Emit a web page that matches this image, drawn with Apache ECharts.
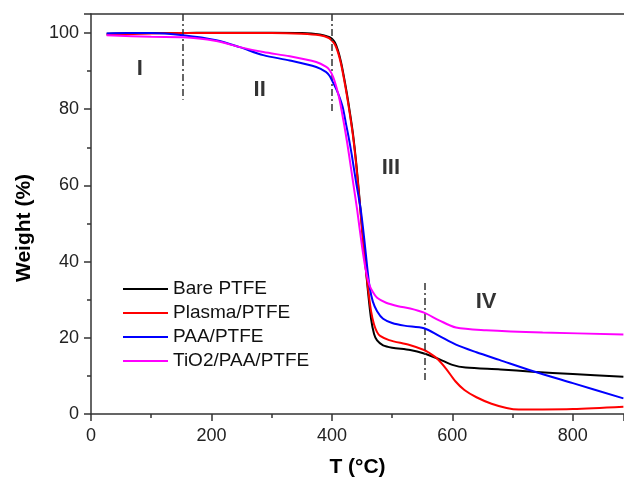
<html>
<head>
<meta http-equiv="Content-Type" content="text/html; charset=utf-8">
<script type="text/javascript" src="https://cdn.jsdelivr.net/npm/echarts@6/dist/echarts.min.js"></script>
<style>
html, body { margin: 0; padding: 0; background: #fff; overflow: hidden; }
#main { width: 624px; height: 479px; }
</style>
</head>
<body>
<div id="main"></div>
<script type="text/javascript">
// TGA curves, temperature (°C) / weight (%)
var bareT = [26, 60, 100, 150, 200, 250, 300, 350, 380, 395, 400, 405, 410, 415, 420, 425, 430, 435, 440, 445, 450, 455, 460, 465, 470, 475, 485, 500, 530, 553, 578, 600, 622, 680, 733, 800, 884];
var bareW = [99.8, 99.9, 100, 100, 100.1, 100.1, 100.1, 100, 99.6, 99, 98.5, 97.5, 95.5, 92.5, 88.5, 84, 79, 73.5, 66.5, 58, 49, 40.5, 32, 25, 21, 19.3, 18, 17.4, 16.8, 15.9, 14.4, 12.9, 12.2, 11.7, 11.1, 10.5, 9.8];

var plasmaT = [26, 60, 100, 150, 200, 250, 300, 350, 380, 395, 400, 405, 410, 415, 420, 425, 430, 435, 440, 445, 450, 455, 460, 465, 470, 475, 480, 495, 529, 553, 560, 575, 590, 605, 620, 640, 665, 690, 710, 750, 800, 884];
var plasmaW = [99.5, 99.7, 99.9, 100, 100, 100, 100, 99.8, 99.4, 98.7, 98, 97, 95, 92, 88, 83.5, 78.5, 73, 66, 57.5, 48.5, 40, 33, 27, 23.5, 21.5, 20.5, 19.4, 18.1, 16.8, 16.2, 14.5, 11.8, 8.6, 6.3, 4.4, 2.7, 1.6, 1.2, 1.2, 1.3, 1.9];

var paaT = [26, 60, 100, 153, 208, 247, 286, 330, 374, 390, 396, 402, 408, 413, 418, 423, 428, 433, 440, 448, 454, 459, 463, 468, 475, 485, 500, 520, 553, 578, 606, 640, 678, 733, 800, 884];
var paaW = [99.9, 100, 100, 99.4, 98.1, 96.3, 94.2, 92.8, 91.1, 89.8, 88.8, 87, 85, 83, 80.5, 76.5, 72.5, 68, 61, 53.5, 45.5, 38, 33, 29.5, 27, 25, 23.9, 23.2, 22.5, 20.5, 18.2, 16.2, 14.2, 11.3, 8.1, 4.1];

var tioT = [26, 100, 153, 208, 247, 286, 330, 374, 390, 396, 402, 408, 413, 418, 423, 428, 435, 442, 450, 456, 462, 468, 475, 490, 510, 530, 553, 578, 606, 656, 750, 884];
var tioW = [99.4, 99, 98.9, 97.9, 96.3, 95, 93.9, 92.4, 91.2, 90.3, 88.5, 85.5, 82.3, 78, 73.5, 68.5, 61, 53.5, 44, 38, 34, 32, 30.5, 29.2, 28.3, 27.7, 26.6, 24.6, 22.7, 22, 21.4, 20.9];

var seriesNames = ['Bare PTFE', 'Plasma/PTFE', 'PAA/PTFE', 'TiO2/PAA/PTFE'];
var seriesColors = ['#000000', '#ff0000', '#0000ff', '#ff00ff'];

// region labels and dash-dot dividers
var regionNames = ['I', 'II', 'III', 'IV'];
var regionT = [81, 280, 498, 656];
var regionW = [90.7, 85, 64.5, 29.5];
var dividerT = [152, 400, 554];
var dividerTop = [105, 105, 34.4];
var dividerBottom = [82.5, 79.5, 8.6];

function pairs(xs, ys) {
	var out = [];
	for (var i = 0; i < xs.length; i++) out.push([xs[i], ys[i]]);
	return out;
}

var curves = [pairs(bareT, bareW), pairs(plasmaT, plasmaW), pairs(paaT, paaW), pairs(tioT, tioW)];
var font = 'Arial, "Liberation Sans", sans-serif';

var series = [];
for (var i = 0; i < curves.length; i++) {
	series.push({
		name: seriesNames[i],
		type: 'line',
		data: curves[i],
		showSymbol: false,
		symbol: 'none',
		smooth: 0.3,
		lineStyle: { color: seriesColors[i], width: 2 },
		itemStyle: { color: seriesColors[i] },
		z: 3 + i
	});
}

var dividers = [];
for (var j = 0; j < dividerT.length; j++) {
	dividers.push([{ coord: [dividerT[j], dividerTop[j]] }, { coord: [dividerT[j], dividerBottom[j]] }]);
}

series.push({
	name: 'regions',
	type: 'scatter',
	data: pairs(regionT, regionW).map(function (p, k) { return { value: p, name: regionNames[k] }; }),
	symbolSize: 0,
	silent: true,
	label: {
		show: true,
		position: 'inside',
		formatter: '{b}',
		color: '#000',
		fontFamily: font,
		fontWeight: 'bold',
		fontSize: 22
	},
	markLine: {
		silent: true,
		symbol: ['none', 'none'],
		label: { show: false },
		lineStyle: { color: '#333', width: 1.5, type: [7, 3, 2, 3] },
		data: dividers
	},
	z: 2
});

var option = {
	animation: false,
	backgroundColor: '#fff',
	grid: { left: 91, right: 0, top: 14, bottom: 65, outerBoundsMode: 'none', containLabel: false },
	legend: {
		data: seriesNames,
		orient: 'vertical',
		left: 118,
		top: 274,
		icon: 'rect',
		itemWidth: 45,
		itemHeight: 2,
		itemGap: 4,
		textStyle: { fontFamily: font, fontSize: 19, color: '#111', lineHeight: 20 }
	},
	xAxis: [{
		type: 'value',
		min: 0,
		max: 885,
		interval: 200,
		name: 'T (°C)',
		nameLocation: 'middle',
		nameGap: 43,
		nameTextStyle: { fontFamily: font, fontSize: 21, fontWeight: 'bold', color: '#000' },
		splitLine: { show: false },
		axisLine: { lineStyle: { color: '#333', width: 1.5 } },
		axisTick: { inside: false, length: 7, lineStyle: { color: '#333', width: 1.5 } },
		minorTick: { show: true, splitNumber: 2, length: 4, lineStyle: { color: '#333', width: 1.5 } },
		axisLabel: {
			margin: 13, fontFamily: font, fontSize: 18, color: '#222',
			formatter: function (v) { return v % 200 === 0 ? String(v) : ''; }
		}
	}, {
		type: 'value',
		position: 'top',
		min: 0,
		max: 885,
		axisLine: { show: true, onZero: false, lineStyle: { color: '#333', width: 1.5 } },
		axisTick: { show: false },
		axisLabel: { show: false },
		splitLine: { show: false }
	}],
	yAxis: {
		type: 'value',
		min: 0,
		max: 105,
		interval: 20,
		name: 'Weight (%)',
		nameLocation: 'middle',
		nameGap: 56,
		nameTextStyle: { fontFamily: font, fontSize: 21, fontWeight: 'bold', color: '#000', padding: [0, 28, 0, 0] },
		splitLine: { show: false },
		axisLine: { show: true, lineStyle: { color: '#333', width: 1.5 } },
		axisTick: { inside: false, length: 7, lineStyle: { color: '#333', width: 1.5 } },
		minorTick: { show: true, splitNumber: 2, length: 4, lineStyle: { color: '#333', width: 1.5 } },
		axisLabel: {
			margin: 12, fontFamily: font, fontSize: 18, color: '#222',
			formatter: function (v) { return v % 20 === 0 ? String(v) : ''; }
		}
	},
	series: series
};

var myChart = echarts.init(document.getElementById('main'));
myChart.setOption(option);
</script>
</body>
</html>
